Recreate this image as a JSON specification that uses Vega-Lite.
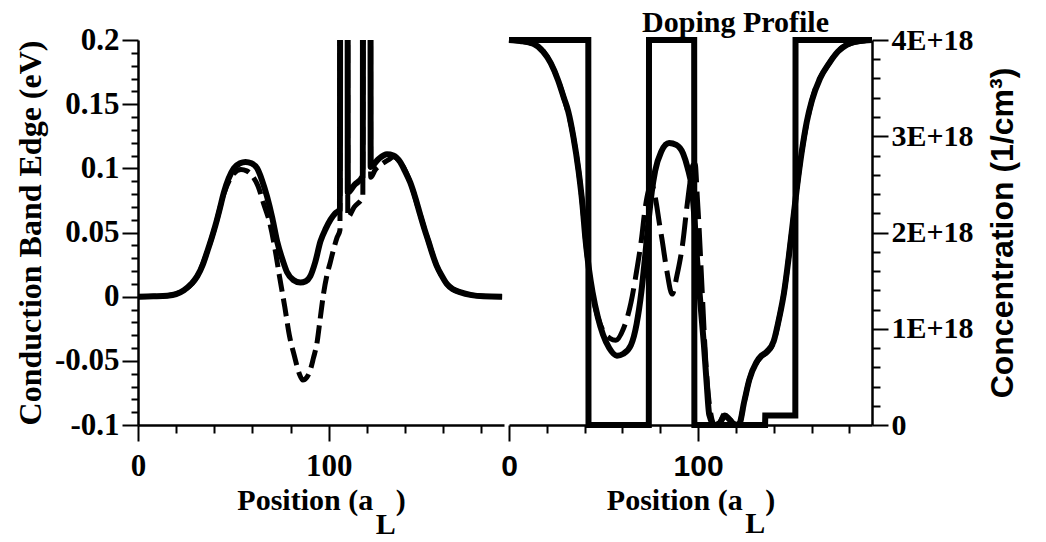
{
  "$schema": "https://vega.github.io/schema/vega-lite/v6.json",
  "background": "white",
  "padding": {"left": 14, "top": 8, "right": 5, "bottom": 2},
  "spacing": 5,
  "bounds": "flush",
  "config": {
    "view": {"stroke": null},
    "axis": {
      "grid": false,
      "domainColor": "black",
      "domainWidth": 2.5,
      "tickColor": "black",
      "tickWidth": 2,
      "labelColor": "black",
      "titleColor": "black",
      "labelFont": "Liberation Serif",
      "labelFontWeight": "bold",
      "labelFontSize": 31,
      "titleFont": "Liberation Serif",
      "titleFontWeight": "bold",
      "titleFontSize": 30,
      "labelFlush": false,
      "labelOverlap": false,
      "tickCount": 100
    }
  },
  "datasets": {
    "band": [
      {"x": 0, "E": 0, "curve": "solid"},
      {"x": 8, "E": 0.0003, "curve": "solid"},
      {"x": 15.4, "E": 0.0008, "curve": "solid"},
      {"x": 20, "E": 0.002, "curve": "solid"},
      {"x": 24.1, "E": 0.005, "curve": "solid"},
      {"x": 28, "E": 0.01, "curve": "solid"},
      {"x": 31.1, "E": 0.016, "curve": "solid"},
      {"x": 34, "E": 0.025, "curve": "solid"},
      {"x": 36.3, "E": 0.035, "curve": "solid"},
      {"x": 38.5, "E": 0.045, "curve": "solid"},
      {"x": 40.7, "E": 0.056, "curve": "solid"},
      {"x": 43, "E": 0.069, "curve": "solid"},
      {"x": 45, "E": 0.081, "curve": "solid"},
      {"x": 47.5, "E": 0.092, "curve": "solid"},
      {"x": 50.3, "E": 0.1, "curve": "solid"},
      {"x": 53.5, "E": 0.104, "curve": "solid"},
      {"x": 56.4, "E": 0.105, "curve": "solid"},
      {"x": 59.5, "E": 0.104, "curve": "solid"},
      {"x": 62.5, "E": 0.1, "curve": "solid"},
      {"x": 65, "E": 0.091, "curve": "solid"},
      {"x": 67.7, "E": 0.078, "curve": "solid"},
      {"x": 70.5, "E": 0.061, "curve": "solid"},
      {"x": 73, "E": 0.043, "curve": "solid"},
      {"x": 76, "E": 0.028, "curve": "solid"},
      {"x": 78.2, "E": 0.019, "curve": "solid"},
      {"x": 81.5, "E": 0.013, "curve": "solid"},
      {"x": 85.2, "E": 0.011, "curve": "solid"},
      {"x": 88, "E": 0.012, "curve": "solid"},
      {"x": 90.4, "E": 0.016, "curve": "solid"},
      {"x": 93, "E": 0.027, "curve": "solid"},
      {"x": 95.7, "E": 0.043, "curve": "solid"},
      {"x": 98.5, "E": 0.053, "curve": "solid"},
      {"x": 101, "E": 0.06, "curve": "solid"},
      {"x": 103.5, "E": 0.065, "curve": "solid"},
      {"x": 105.95, "E": 0.068, "curve": "solid"},
      {"x": 106.05, "E": 0.3, "curve": "solid"},
      {"x": 109.95, "E": 0.3, "curve": "solid"},
      {"x": 110.05, "E": 0.081, "curve": "solid"},
      {"x": 113.5, "E": 0.087, "curve": "solid"},
      {"x": 117.95, "E": 0.094, "curve": "solid"},
      {"x": 118.05, "E": 0.3, "curve": "solid"},
      {"x": 121.95, "E": 0.3, "curve": "solid"},
      {"x": 122.05, "E": 0.101, "curve": "solid"},
      {"x": 126, "E": 0.107, "curve": "solid"},
      {"x": 130.6, "E": 0.111, "curve": "solid"},
      {"x": 134, "E": 0.11, "curve": "solid"},
      {"x": 137.5, "E": 0.105, "curve": "solid"},
      {"x": 140, "E": 0.098, "curve": "solid"},
      {"x": 142.8, "E": 0.089, "curve": "solid"},
      {"x": 145.5, "E": 0.077, "curve": "solid"},
      {"x": 148, "E": 0.064, "curve": "solid"},
      {"x": 150.2, "E": 0.053, "curve": "solid"},
      {"x": 152.4, "E": 0.043, "curve": "solid"},
      {"x": 154.5, "E": 0.033, "curve": "solid"},
      {"x": 156.7, "E": 0.024, "curve": "solid"},
      {"x": 159.5, "E": 0.016, "curve": "solid"},
      {"x": 162, "E": 0.01, "curve": "solid"},
      {"x": 165, "E": 0.006, "curve": "solid"},
      {"x": 168.9, "E": 0.0035, "curve": "solid"},
      {"x": 175, "E": 0.0012, "curve": "solid"},
      {"x": 181.2, "E": 0.0003, "curve": "solid"},
      {"x": 191, "E": 0, "curve": "solid"},

      {"x": 0, "E": 0, "curve": "dashed"},
      {"x": 15.4, "E": 0.0008, "curve": "dashed"},
      {"x": 24.1, "E": 0.005, "curve": "dashed"},
      {"x": 31.1, "E": 0.016, "curve": "dashed"},
      {"x": 36.3, "E": 0.035, "curve": "dashed"},
      {"x": 40.7, "E": 0.056, "curve": "dashed"},
      {"x": 45, "E": 0.08, "curve": "dashed"},
      {"x": 50.3, "E": 0.096, "curve": "dashed"},
      {"x": 54, "E": 0.099, "curve": "dashed"},
      {"x": 57, "E": 0.098, "curve": "dashed"},
      {"x": 60, "E": 0.094, "curve": "dashed"},
      {"x": 63, "E": 0.086, "curve": "dashed"},
      {"x": 66, "E": 0.072, "curve": "dashed"},
      {"x": 69, "E": 0.058, "curve": "dashed"},
      {"x": 72, "E": 0.036, "curve": "dashed"},
      {"x": 74.2, "E": 0.016, "curve": "dashed"},
      {"x": 77, "E": -0.008, "curve": "dashed"},
      {"x": 79.4, "E": -0.03, "curve": "dashed"},
      {"x": 82, "E": -0.046, "curve": "dashed"},
      {"x": 84.6, "E": -0.06, "curve": "dashed"},
      {"x": 86.5, "E": -0.065, "curve": "dashed"},
      {"x": 88.5, "E": -0.063, "curve": "dashed"},
      {"x": 90.4, "E": -0.057, "curve": "dashed"},
      {"x": 92, "E": -0.048, "curve": "dashed"},
      {"x": 93.9, "E": -0.036, "curve": "dashed"},
      {"x": 95.5, "E": -0.018, "curve": "dashed"},
      {"x": 97.4, "E": 0.003, "curve": "dashed"},
      {"x": 99, "E": 0.016, "curve": "dashed"},
      {"x": 100.9, "E": 0.027, "curve": "dashed"},
      {"x": 102.8, "E": 0.038, "curve": "dashed"},
      {"x": 104.4, "E": 0.046, "curve": "dashed"},
      {"x": 105.95, "E": 0.052, "curve": "dashed"},
      {"x": 106.05, "E": 0.3, "curve": "dashed"},
      {"x": 109.95, "E": 0.3, "curve": "dashed"},
      {"x": 110.05, "E": 0.062, "curve": "dashed"},
      {"x": 113.5, "E": 0.07, "curve": "dashed"},
      {"x": 117.95, "E": 0.078, "curve": "dashed"},
      {"x": 118.05, "E": 0.3, "curve": "dashed"},
      {"x": 121.95, "E": 0.3, "curve": "dashed"},
      {"x": 122.05, "E": 0.093, "curve": "dashed"},
      {"x": 124.5, "E": 0.099, "curve": "dashed"},
      {"x": 127.6, "E": 0.103, "curve": "dashed"},
      {"x": 131.8, "E": 0.107, "curve": "dashed"},
      {"x": 134, "E": 0.109, "curve": "dashed"},
      {"x": 137.5, "E": 0.105, "curve": "dashed"},
      {"x": 142.8, "E": 0.089, "curve": "dashed"},
      {"x": 148, "E": 0.064, "curve": "dashed"},
      {"x": 152.4, "E": 0.043, "curve": "dashed"},
      {"x": 156.7, "E": 0.024, "curve": "dashed"},
      {"x": 162, "E": 0.01, "curve": "dashed"},
      {"x": 168.9, "E": 0.0035, "curve": "dashed"},
      {"x": 181.2, "E": 0.0003, "curve": "dashed"},
      {"x": 191, "E": 0, "curve": "dashed"}
    ],
    "conc": [
      {"x": 0, "n": 4e18, "curve": "doping"},
      {"x": 41.95, "n": 4e18, "curve": "doping"},
      {"x": 42.05, "n": 0, "curve": "doping"},
      {"x": 73.95, "n": 0, "curve": "doping"},
      {"x": 74.05, "n": 4e18, "curve": "doping"},
      {"x": 97.95, "n": 4e18, "curve": "doping"},
      {"x": 98.05, "n": 0, "curve": "doping"},
      {"x": 135.45, "n": 0, "curve": "doping"},
      {"x": 135.55, "n": 1e17, "curve": "doping"},
      {"x": 151.45, "n": 1e17, "curve": "doping"},
      {"x": 151.55, "n": 4e18, "curve": "doping"},
      {"x": 192, "n": 4e18, "curve": "doping"},

      {"x": 0, "n": 4.0e18, "curve": "solid"},
      {"x": 6, "n": 3.99e18, "curve": "solid"},
      {"x": 12.9, "n": 3.96e18, "curve": "solid"},
      {"x": 18, "n": 3.88e18, "curve": "solid"},
      {"x": 22.1, "n": 3.76e18, "curve": "solid"},
      {"x": 26, "n": 3.58e18, "curve": "solid"},
      {"x": 29, "n": 3.4e18, "curve": "solid"},
      {"x": 31.3, "n": 3.26e18, "curve": "solid"},
      {"x": 34, "n": 3.0e18, "curve": "solid"},
      {"x": 36.8, "n": 2.64e18, "curve": "solid"},
      {"x": 38.8, "n": 2.3e18, "curve": "solid"},
      {"x": 40.5, "n": 1.92e18, "curve": "solid"},
      {"x": 42.3, "n": 1.62e18, "curve": "solid"},
      {"x": 44.2, "n": 1.38e18, "curve": "solid"},
      {"x": 47, "n": 1.12e18, "curve": "solid"},
      {"x": 49.7, "n": 0.94e18, "curve": "solid"},
      {"x": 53, "n": 0.8e18, "curve": "solid"},
      {"x": 57.1, "n": 0.72e18, "curve": "solid"},
      {"x": 60.5, "n": 0.74e18, "curve": "solid"},
      {"x": 64.5, "n": 0.83e18, "curve": "solid"},
      {"x": 67.5, "n": 1.05e18, "curve": "solid"},
      {"x": 70, "n": 1.38e18, "curve": "solid"},
      {"x": 72, "n": 1.75e18, "curve": "solid"},
      {"x": 73.7, "n": 2.1e18, "curve": "solid"},
      {"x": 75.5, "n": 2.42e18, "curve": "solid"},
      {"x": 77.3, "n": 2.64e18, "curve": "solid"},
      {"x": 80.5, "n": 2.84e18, "curve": "solid"},
      {"x": 84.7, "n": 2.93e18, "curve": "solid"},
      {"x": 88.5, "n": 2.91e18, "curve": "solid"},
      {"x": 92.1, "n": 2.82e18, "curve": "solid"},
      {"x": 94.5, "n": 2.67e18, "curve": "solid"},
      {"x": 96.7, "n": 2.46e18, "curve": "solid"},
      {"x": 98.2, "n": 2.12e18, "curve": "solid"},
      {"x": 99.4, "n": 1.74e18, "curve": "solid"},
      {"x": 101.3, "n": 1.25e18, "curve": "solid"},
      {"x": 103.1, "n": 0.83e18, "curve": "solid"},
      {"x": 104.5, "n": 0.45e18, "curve": "solid"},
      {"x": 105.9, "n": 0.11e18, "curve": "solid"},
      {"x": 108.7, "n": 0, "curve": "solid"},
      {"x": 111.5, "n": 0.02e18, "curve": "solid"},
      {"x": 114.2, "n": 0.1e18, "curve": "solid"},
      {"x": 116.5, "n": 0.06e18, "curve": "solid"},
      {"x": 119, "n": 0.01e18, "curve": "solid"},
      {"x": 121.5, "n": 0, "curve": "solid"},
      {"x": 124.5, "n": 0.25e18, "curve": "solid"},
      {"x": 127.1, "n": 0.47e18, "curve": "solid"},
      {"x": 130.8, "n": 0.65e18, "curve": "solid"},
      {"x": 133.5, "n": 0.72e18, "curve": "solid"},
      {"x": 136.3, "n": 0.76e18, "curve": "solid"},
      {"x": 140, "n": 0.87e18, "curve": "solid"},
      {"x": 143, "n": 1.12e18, "curve": "solid"},
      {"x": 145.5, "n": 1.38e18, "curve": "solid"},
      {"x": 148, "n": 1.75e18, "curve": "solid"},
      {"x": 150.1, "n": 2.1e18, "curve": "solid"},
      {"x": 152.5, "n": 2.5e18, "curve": "solid"},
      {"x": 154.7, "n": 2.82e18, "curve": "solid"},
      {"x": 157.5, "n": 3.15e18, "curve": "solid"},
      {"x": 160.2, "n": 3.37e18, "curve": "solid"},
      {"x": 164.5, "n": 3.6e18, "curve": "solid"},
      {"x": 169.4, "n": 3.76e18, "curve": "solid"},
      {"x": 174, "n": 3.88e18, "curve": "solid"},
      {"x": 178.6, "n": 3.95e18, "curve": "solid"},
      {"x": 185, "n": 3.99e18, "curve": "solid"},
      {"x": 192, "n": 4.0e18, "curve": "solid"},

      {"x": 0, "n": 4.0e18, "curve": "dashed"},
      {"x": 12.9, "n": 3.96e18, "curve": "dashed"},
      {"x": 22.1, "n": 3.76e18, "curve": "dashed"},
      {"x": 29, "n": 3.4e18, "curve": "dashed"},
      {"x": 34, "n": 3.0e18, "curve": "dashed"},
      {"x": 36.8, "n": 2.64e18, "curve": "dashed"},
      {"x": 38.8, "n": 2.3e18, "curve": "dashed"},
      {"x": 40.5, "n": 1.92e18, "curve": "dashed"},
      {"x": 42.3, "n": 1.6e18, "curve": "dashed"},
      {"x": 44.2, "n": 1.36e18, "curve": "dashed"},
      {"x": 47, "n": 1.12e18, "curve": "dashed"},
      {"x": 50, "n": 0.97e18, "curve": "dashed"},
      {"x": 53.4, "n": 0.9e18, "curve": "dashed"},
      {"x": 56.5, "n": 0.88e18, "curve": "dashed"},
      {"x": 60.5, "n": 1.0e18, "curve": "dashed"},
      {"x": 64.5, "n": 1.27e18, "curve": "dashed"},
      {"x": 67.5, "n": 1.6e18, "curve": "dashed"},
      {"x": 70, "n": 1.92e18, "curve": "dashed"},
      {"x": 72, "n": 2.25e18, "curve": "dashed"},
      {"x": 73.7, "n": 2.43e18, "curve": "dashed"},
      {"x": 75.5, "n": 2.5e18, "curve": "dashed"},
      {"x": 77.5, "n": 2.35e18, "curve": "dashed"},
      {"x": 79.5, "n": 2.1e18, "curve": "dashed"},
      {"x": 81, "n": 1.92e18, "curve": "dashed"},
      {"x": 83.5, "n": 1.6e18, "curve": "dashed"},
      {"x": 86.3, "n": 1.36e18, "curve": "dashed"},
      {"x": 88.8, "n": 1.55e18, "curve": "dashed"},
      {"x": 92.1, "n": 1.92e18, "curve": "dashed"},
      {"x": 94, "n": 2.25e18, "curve": "dashed"},
      {"x": 95.8, "n": 2.53e18, "curve": "dashed"},
      {"x": 97.2, "n": 2.7e18, "curve": "dashed"},
      {"x": 98.5, "n": 2.71e18, "curve": "dashed"},
      {"x": 99.5, "n": 2.4e18, "curve": "dashed"},
      {"x": 100.4, "n": 2.1e18, "curve": "dashed"},
      {"x": 102.2, "n": 1.38e18, "curve": "dashed"},
      {"x": 104.1, "n": 0.65e18, "curve": "dashed"},
      {"x": 105.5, "n": 0.3e18, "curve": "dashed"},
      {"x": 106.8, "n": 0.11e18, "curve": "dashed"},
      {"x": 108.7, "n": 0, "curve": "dashed"},
      {"x": 111.5, "n": 0.03e18, "curve": "dashed"},
      {"x": 114.2, "n": 0.12e18, "curve": "dashed"},
      {"x": 116.5, "n": 0.07e18, "curve": "dashed"},
      {"x": 119, "n": 0.01e18, "curve": "dashed"},
      {"x": 121.5, "n": 0, "curve": "dashed"},
      {"x": 124.5, "n": 0.25e18, "curve": "dashed"},
      {"x": 127.1, "n": 0.47e18, "curve": "dashed"},
      {"x": 130.8, "n": 0.64e18, "curve": "dashed"},
      {"x": 133.5, "n": 0.71e18, "curve": "dashed"},
      {"x": 136.3, "n": 0.75e18, "curve": "dashed"},
      {"x": 140, "n": 0.86e18, "curve": "dashed"},
      {"x": 143, "n": 1.12e18, "curve": "dashed"},
      {"x": 145.5, "n": 1.38e18, "curve": "dashed"},
      {"x": 150.1, "n": 2.1e18, "curve": "dashed"},
      {"x": 154.7, "n": 2.82e18, "curve": "dashed"},
      {"x": 160.2, "n": 3.37e18, "curve": "dashed"},
      {"x": 169.4, "n": 3.76e18, "curve": "dashed"},
      {"x": 178.6, "n": 3.95e18, "curve": "dashed"},
      {"x": 192, "n": 4.0e18, "curve": "dashed"}
    ],
    "subL": [{"sub": "L"}]
  },
  "hconcat": [
    {
      "width": 366,
      "height": 385,
      "layer": [
        {
          "data": {"name": "band"},
          "transform": [{"filter": "datum.curve == 'dashed'"}],
          "mark": {"type": "line", "clip": true, "color": "black", "strokeWidth": 5, "strokeDash": [18, 7], "interpolate": "monotone"},
          "encoding": {
            "x": {
              "field": "x",
              "type": "quantitative",
              "scale": {"domain": [0, 192], "nice": false, "zero": false},
              "axis": {
                "values": [0, 20, 40, 60, 80, 100, 120, 140, 160, 180],
                "tickCount": 100,
                "labelExpr": "datum.value % 100 == 0 ? datum.label : ''",
                "tickSize": {"condition": {"test": "datum.value % 100 == 0", "value": 16}, "value": 8},
                "labelPadding": 10,
                "title": "Position (a\u00a0\u00a0\u00a0)",
                "titlePadding": 4
              }
            },
            "y": {
              "field": "E",
              "type": "quantitative",
              "scale": {"domain": [-0.1, 0.2], "nice": false, "zero": false},
              "axis": {
                "values": [-0.1, -0.09, -0.08, -0.07, -0.06, -0.05, -0.04, -0.03, -0.02, -0.01, 0, 0.01, 0.02, 0.03, 0.04, 0.05, 0.06, 0.07, 0.08, 0.09, 0.1, 0.11, 0.12, 0.13, 0.14, 0.15, 0.16, 0.17, 0.18, 0.19, 0.2],
                "tickCount": 100,
                "labelExpr": "abs(round(datum.value * 100)) % 5 == 0 ? '' + datum.value : ''",
                "tickSize": {"condition": {"test": "abs(round(datum.value * 100)) % 5 == 0", "value": 16}, "value": 7},
                "labelPadding": 3,
                "labelBaseline": "middle",
                "title": "Conduction Band Edge (eV)",
                "titleFontSize": 32,
                "titlePadding": 7
              }
            }
          }
        },
        {
          "data": {"name": "band"},
          "transform": [{"filter": "datum.curve == 'solid'"}],
          "mark": {"type": "line", "clip": true, "color": "black", "strokeWidth": 6, "interpolate": "monotone"},
          "encoding": {
            "x": {"field": "x", "type": "quantitative"},
            "y": {"field": "E", "type": "quantitative"}
          }
        },
        {
          "data": {"name": "subL"},
          "mark": {"type": "text", "font": "Liberation Serif", "fontWeight": "bold", "fontSize": 30, "color": "black", "baseline": "middle", "align": "center", "clip": false},
          "encoding": {
            "x": {
              "datum": 130,
              "type": "quantitative",
              "axis": {
                "values": [0, 20, 40, 60, 80, 100, 120, 140, 160, 180],
                "tickCount": 100,
                "labelExpr": "datum.value % 100 == 0 ? datum.label : ''",
                "tickSize": {"condition": {"test": "datum.value % 100 == 0", "value": 16}, "value": 8},
                "labelPadding": 10,
                "title": "Position (a\u00a0\u00a0\u00a0)",
                "titlePadding": 4
              }
            },
            "y": {
              "datum": -0.178,
              "type": "quantitative",
              "axis": {
                "values": [-0.1, -0.09, -0.08, -0.07, -0.06, -0.05, -0.04, -0.03, -0.02, -0.01, 0, 0.01, 0.02, 0.03, 0.04, 0.05, 0.06, 0.07, 0.08, 0.09, 0.1, 0.11, 0.12, 0.13, 0.14, 0.15, 0.16, 0.17, 0.18, 0.19, 0.2],
                "tickCount": 100,
                "labelExpr": "abs(round(datum.value * 100)) % 5 == 0 ? '' + datum.value : ''",
                "tickSize": {"condition": {"test": "abs(round(datum.value * 100)) % 5 == 0", "value": 16}, "value": 7},
                "labelPadding": 3,
                "labelBaseline": "middle",
                "title": "Conduction Band Edge (eV)",
                "titleFontSize": 32,
                "titlePadding": 7
              }
            },
            "text": {"field": "sub", "type": "nominal"}
          }
        }
      ]
    },
    {
      "width": 363,
      "height": 385,
      "title": {"text": "Doping Profile", "font": "Liberation Serif", "fontSize": 30, "fontWeight": "bold", "color": "black", "anchor": "middle", "dx": 45, "offset": -13},
      "layer": [
        {
          "data": {"name": "conc"},
          "transform": [{"filter": "datum.curve == 'doping'"}],
          "mark": {"type": "line", "clip": false, "color": "black", "strokeWidth": 6},
          "encoding": {
            "x": {
              "field": "x",
              "type": "quantitative",
              "scale": {"domain": [0, 192], "nice": false, "zero": false},
              "axis": {
                "values": [0, 20, 40, 60, 80, 100, 120, 140, 160, 180],
                "tickCount": 100,
                "labelExpr": "datum.value % 100 == 0 ? datum.label : ''",
                "tickSize": {"condition": {"test": "datum.value % 100 == 0", "value": 16}, "value": 8},
                "labelPadding": 10,
                "labelFont": "Liberation Sans",
                "labelFontSize": 30,
                "title": "Position (a\u00a0\u00a0\u00a0)",
                "titlePadding": 4
              }
            },
            "y": {
              "field": "n",
              "type": "quantitative",
              "scale": {"domain": [0, 4e18], "nice": false, "zero": false},
              "axis": {
                "orient": "right",
                "values": [0, 2e17, 4e17, 6e17, 8e17, 1e18, 1.2e18, 1.4e18, 1.6e18, 1.8e18, 2e18, 2.2e18, 2.4e18, 2.6e18, 2.8e18, 3e18, 3.2e18, 3.4e18, 3.6e18, 3.8e18, 4e18],
                "tickCount": 100,
                "labelExpr": "datum.value % 1e18 == 0 ? (datum.value == 0 ? '0' : (datum.value / 1e18) + 'E+18') : ''",
                "tickSize": {"condition": {"test": "datum.value % 1e18 == 0", "value": 16}, "value": 8},
                "labelPadding": 3,
                "labelFontSize": 30,
                "labelBaseline": "middle",
                "title": "Concentration (1/cm\u00b3)",
                "titleFont": "Liberation Sans",
                "titleFontSize": 32,
                "titleAngle": 270,
                "titleBaseline": "top",
                "titlePadding": 14
              }
            }
          }
        },
        {
          "data": {"name": "conc"},
          "transform": [{"filter": "datum.curve == 'dashed'"}],
          "mark": {"type": "line", "clip": false, "color": "black", "strokeWidth": 5, "strokeDash": [28, 9], "interpolate": "monotone"},
          "encoding": {
            "x": {"field": "x", "type": "quantitative"},
            "y": {"field": "n", "type": "quantitative"}
          }
        },
        {
          "data": {"name": "conc"},
          "transform": [{"filter": "datum.curve == 'solid'"}],
          "mark": {"type": "line", "clip": false, "color": "black", "strokeWidth": 6, "interpolate": "monotone"},
          "encoding": {
            "x": {"field": "x", "type": "quantitative"},
            "y": {"field": "n", "type": "quantitative"}
          }
        },
        {
          "data": {"name": "subL"},
          "mark": {"type": "text", "font": "Liberation Serif", "fontWeight": "bold", "fontSize": 30, "color": "black", "baseline": "middle", "align": "center", "clip": false},
          "encoding": {
            "x": {
              "datum": 130.3,
              "type": "quantitative",
              "axis": {
                "values": [0, 20, 40, 60, 80, 100, 120, 140, 160, 180],
                "tickCount": 100,
                "labelExpr": "datum.value % 100 == 0 ? datum.label : ''",
                "tickSize": {"condition": {"test": "datum.value % 100 == 0", "value": 16}, "value": 8},
                "labelPadding": 10,
                "labelFont": "Liberation Sans",
                "labelFontSize": 30,
                "title": "Position (a\u00a0\u00a0\u00a0)",
                "titlePadding": 4
              }
            },
            "y": {
              "datum": -1.03e18,
              "type": "quantitative",
              "axis": {
                "orient": "right",
                "values": [0, 2e17, 4e17, 6e17, 8e17, 1e18, 1.2e18, 1.4e18, 1.6e18, 1.8e18, 2e18, 2.2e18, 2.4e18, 2.6e18, 2.8e18, 3e18, 3.2e18, 3.4e18, 3.6e18, 3.8e18, 4e18],
                "tickCount": 100,
                "labelExpr": "datum.value % 1e18 == 0 ? (datum.value == 0 ? '0' : (datum.value / 1e18) + 'E+18') : ''",
                "tickSize": {"condition": {"test": "datum.value % 1e18 == 0", "value": 16}, "value": 8},
                "labelPadding": 3,
                "labelFontSize": 30,
                "labelBaseline": "middle",
                "title": "Concentration (1/cm\u00b3)",
                "titleFont": "Liberation Sans",
                "titleFontSize": 32,
                "titleAngle": 270,
                "titleBaseline": "top",
                "titlePadding": 14
              }
            },
            "text": {"field": "sub", "type": "nominal"}
          }
        }
      ]
    }
  ]
}
